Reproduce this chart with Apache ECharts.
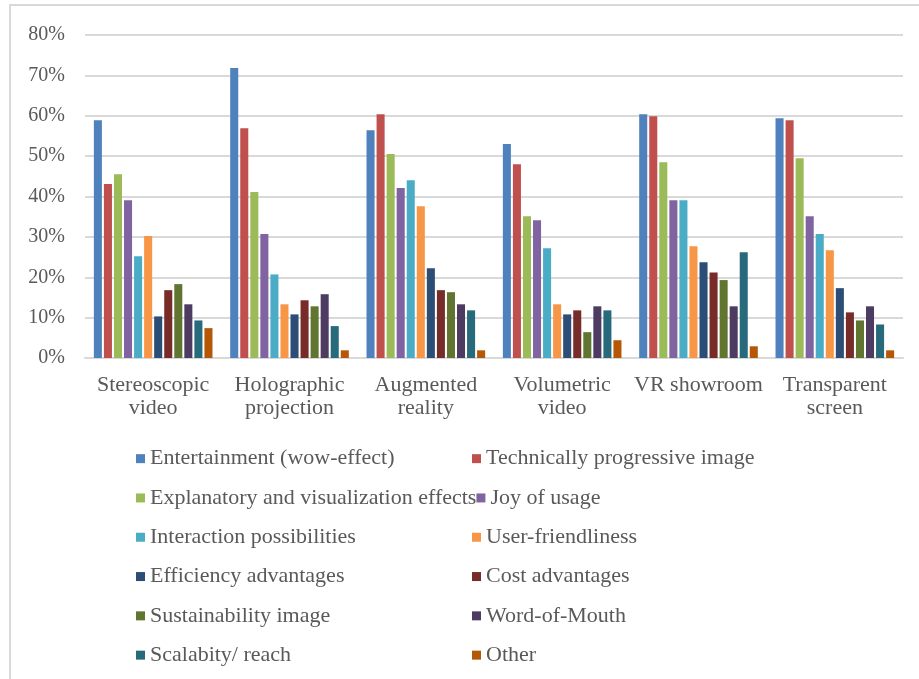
<!DOCTYPE html>
<html>
<head>
<meta charset="utf-8">
<script src="https://cdn.jsdelivr.net/npm/echarts@6/dist/echarts.min.js"></script>
<style>
  html, body { margin: 0; padding: 0; background: #fff; }
  #main { width: 919px; height: 679px; }
</style>
</head>
<body>
<div id="main"></div>
<script>
const categories = ['Stereoscopic\nvideo', 'Holographic\nprojection', 'Augmented\nreality', 'Volumetric\nvideo', 'VR showroom', 'Transparent\nscreen'];

const seriesNames = [
  'Entertainment (wow-effect)', 'Technically progressive image',
  'Explanatory and visualization effects', 'Joy of usage',
  'Interaction possibilities', 'User-friendliness',
  'Efficiency advantages', 'Cost advantages',
  'Sustainability image', 'Word-of-Mouth',
  'Scalabity/ reach', 'Other'
];

const entertainment = [58.9, 71.8, 56.4, 53.0, 60.4, 59.4];
const techImage = [43.1, 56.9, 60.4, 48.0, 59.9, 58.9];
const explanatory = [45.5, 41.1, 50.5, 35.1, 48.5, 49.5];
const joyOfUsage = [39.1, 30.7, 42.1, 34.1, 39.1, 35.1];
const interaction = [25.2, 20.7, 44.0, 27.2, 39.1, 30.7];
const userFriendly = [30.2, 13.3, 37.6, 13.3, 27.7, 26.7];
const efficiency = [10.3, 10.8, 22.2, 10.8, 23.7, 17.3];
const cost = [16.8, 14.3, 16.8, 11.8, 21.2, 11.3];
const sustainability = [18.3, 12.8, 16.3, 6.4, 19.3, 9.3];
const wordOfMouth = [13.3, 15.8, 13.3, 12.8, 12.8, 12.8];
const scalability = [9.3, 7.9, 11.8, 11.8, 26.2, 8.3];
const other = [7.4, 1.9, 1.9, 4.4, 2.9, 1.9];

const yTicks = [0, 10, 20, 30, 40, 50, 60, 70, 80];

const allValues = [entertainment, techImage, explanatory, joyOfUsage, interaction, userFriendly,
  efficiency, cost, sustainability, wordOfMouth, scalability, other];

const colors = ['#4F81BD', '#C0504D', '#9BBB59', '#8064A2', '#4BACC6', '#F79646',
  '#2C4D75', '#772C2A', '#5F7530', '#4D3B62', '#276A7C', '#B65708'];

const font = '"Liberation Serif", "Times New Roman", serif';

const chart = echarts.init(document.getElementById('main'));

const series = seriesNames.map(function (name, i) {
  return {
    name: name,
    type: 'bar',
    data: allValues[i],
    barGap: '25%',
    barCategoryGap: '13%',
    itemStyle: { color: colors[i] }
  };
});

const option = {
  animation: false,
  color: colors,
  graphic: [{
    type: 'rect',
    shape: { x: 10, y: 5, width: 1200, height: 1200 },
    style: { fill: 'none', stroke: '#d9d9d9', lineWidth: 2 },
    silent: true
  }],
  grid: { left: 85, right: 16, top: 35, bottom: 321 },
  legend: {
    left: 136,
    top: 439,
    padding: 0,
    width: 700,
    orient: 'horizontal',
    itemWidth: 9,
    itemHeight: 9,
    itemGap: 0,
    icon: 'rect',
    data: seriesNames,
    textStyle: {
      fontFamily: font,
      fontSize: 22,
      color: '#595959',
      width: 322,
      lineHeight: 39.3,
      overflow: 'none'
    }
  },
  xAxis: {
    type: 'category',
    data: categories,
    axisLine: { lineStyle: { color: '#d9d9d9', width: 2 } },
    axisTick: { show: false },
    axisLabel: {
      fontFamily: font,
      fontSize: 22,
      color: '#595959',
      lineHeight: 23,
      margin: 16,
      interval: 0
    }
  },
  yAxis: {
    type: 'value',
    min: yTicks[0],
    max: yTicks[yTicks.length - 1],
    interval: 10,
    axisLine: { show: false },
    axisTick: { show: false },
    splitLine: { lineStyle: { color: '#d9d9d9', width: 2 } },
    axisLabel: {
      fontFamily: font,
      fontSize: 20,
      color: '#595959',
      margin: 20,
      formatter: '{value}%'
    }
  },
  series: series
};

chart.setOption(option);
</script>
</body>
</html>
